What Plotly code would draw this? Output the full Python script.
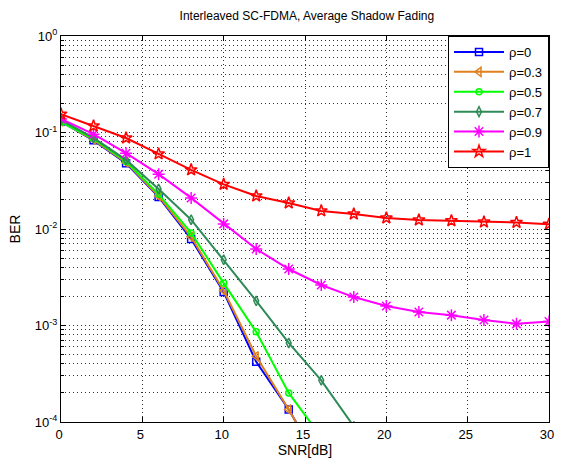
import plotly.graph_objects as go

snr = [0, 2, 4, 6, 8, 10, 12, 14, 16, 18, 20, 22, 24, 26, 28, 30]

ber_rho0 = [0.130, 0.083, 0.048, 0.0215, 0.0079, 0.00222, 0.00042, 0.000135, 0.000035]
ber_rho03 = [0.130, 0.084, 0.049, 0.022, 0.0083, 0.0023, 0.00048, 0.000135, 0.000035]
ber_rho05 = [0.128, 0.086, 0.050, 0.023, 0.0091, 0.00275, 0.00086, 0.00020, 0.00007]
ber_rho07 = [0.135, 0.088, 0.052, 0.026, 0.0125, 0.0048, 0.0018, 0.00066, 0.00027, 0.00009]
ber_rho09 = [0.138, 0.096, 0.061, 0.037, 0.021, 0.0113, 0.0062, 0.00385, 0.00263, 0.00197,
             0.00159, 0.00138, 0.00128, 0.00114, 0.00104, 0.00110]
ber_rho1 = [0.155, 0.117, 0.0877, 0.060, 0.041, 0.029, 0.022, 0.0186, 0.0154, 0.0143,
            0.0130, 0.0124, 0.0122, 0.0118, 0.0117, 0.0112]

series = [
    ("ρ=0", ber_rho0, "#0000FF", "square-open", 7),
    ("ρ=0.3", ber_rho03, "#E0801E", "triangle-left-open", 8),
    ("ρ=0.5", ber_rho05, "#00FF00", "circle-open", 6),
    ("ρ=0.7", ber_rho07, "#2E8B57", "diamond-tall-open", 7),
    ("ρ=0.9", ber_rho09, "#FF00FF", "asterisk-open", 10),
    ("ρ=1", ber_rho1, "#FF0000", "star-open", 9),
]

ytickvals = [1e-4, 1e-3, 1e-2, 1e-1, 1]
yticktext = ["10<sup>-4</sup>", "10<sup>-3</sup>", "10<sup>-2</sup>", "10<sup>-1</sup>", "10<sup>0</sup>"]
xtickvals = [0, 5, 10, 15, 20, 25, 30]
xticktext = ["0", "5", "10", "15", "20", "25", "30"]

fig = go.Figure()
for name, vals, color, sym, sz in series:
    fig.add_trace(go.Scatter(
        x=snr[:len(vals)], y=vals, name=name, mode="lines+markers",
        line=dict(color=color, width=2),
        marker=dict(symbol=sym, size=sz, color=color, line=dict(color=color, width=1.5)),
    ))

fig.update_layout(
    width=561, height=464,
    margin=dict(l=61, r=7, t=36, b=42),
    paper_bgcolor="white", plot_bgcolor="white",
    font=dict(family="Liberation Sans, Arial, sans-serif", size=12, color="black"),
    title=dict(text="Interleaved SC-FDMA, Average Shadow Fading", x=0.547, xanchor="center",
               y=0.966, yanchor="middle", font=dict(size=12)),
    showlegend=True,
    legend=dict(x=1, y=1, xanchor="right", yanchor="top", bgcolor="white",
                bordercolor="black", borderwidth=1, font=dict(size=13),
                tracegroupgap=0, itemwidth=50),
)
fig.update_xaxes(
    range=[0, 30], tickvals=xtickvals, ticktext=xticktext,
    showline=True, linecolor="black", linewidth=1,
    mirror="ticks", ticks="inside", ticklen=5, tickcolor="black",
    showgrid=True, gridcolor="#333333", griddash="1px,3px", gridwidth=1, zeroline=False,
    ticklabelshift=-2,
    title=dict(text="SNR[dB]", standoff=4), tickfont=dict(size=13),
)
fig.update_yaxes(
    type="log", range=[-4, 0], tickvals=ytickvals, ticktext=yticktext,
    showline=True, linecolor="black", linewidth=1,
    mirror="ticks", ticks="inside", ticklen=5, tickcolor="black",
    showgrid=True, gridcolor="#333333", griddash="1px,3px", gridwidth=1,
    minor=dict(dtick="D1", showgrid=True, gridcolor="#333333", griddash="1px,3px", gridwidth=1,
               ticks="inside", ticklen=3, tickcolor="black"),
    title=dict(text="BER", standoff=10), tickfont=dict(size=13),
)

fig.write_html("out.html", config={"displayModeBar": False},
               post_script="document.body.style.margin='0';")
